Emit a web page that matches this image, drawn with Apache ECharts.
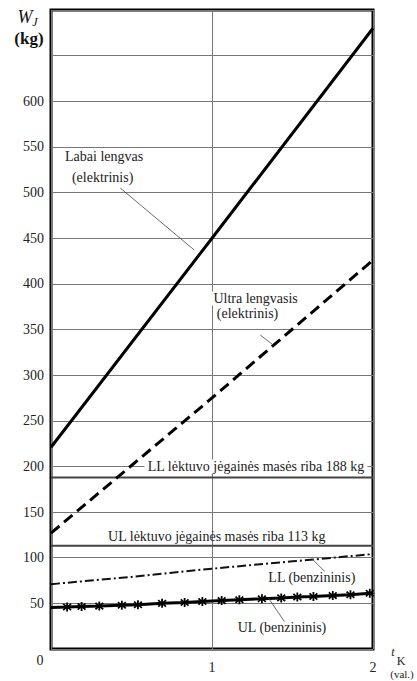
<!DOCTYPE html>
<html>
<head>
<meta charset="utf-8">
<script src="https://cdn.jsdelivr.net/npm/echarts@6/dist/echarts.min.js"></script>
<style>
  html, body { margin: 0; padding: 0; background: #fff; }
  #chart { width: 417px; height: 681px; }
</style>
</head>
<body>
<div id="chart"></div>
<script>
// x axis: flight time t_K (val.), y axis: mass W_J (kg)
var xTicks = [0, 1, 2];
var yTicks = [0, 50, 100, 150, 200, 250, 300, 350, 400, 450, 500, 550, 600, 650, 700];

// electric aircraft
var elT = [0, 1, 2];
var labaiLengvas = [221, 450, 680];
var ultraLengvasis = [127, 275, 426];

// petrol engines
var llBenzT = [0, 0.5, 1, 1.5, 2];
var llBenz = [71, 79, 88, 96, 104];
var ulBenzT = [0, 0.10, 0.19, 0.30, 0.44, 0.54, 0.69, 0.83, 0.94, 1.06, 1.17, 1.31, 1.43, 1.53, 1.63, 1.75, 1.86, 1.98, 2];
var ulBenz = [45.5, 46, 46.5, 47, 48, 48.5, 50, 51, 52, 53, 54, 55, 56, 57, 57.5, 58.5, 59.5, 61, 61];

// power plant mass limits
var llLimit = 188;
var ulLimit = 113;

var serif = 'Liberation Serif, DejaVu Serif, serif';

var chart = echarts.init(document.getElementById('chart'), null, { renderer: 'svg' });

function pairs(xs, ys) {
    return xs.map(function(x, i) { return [x, ys[i]]; });
}

var ulData = ulBenzT.map(function(t, i) {
    var item = { value: [t, ulBenz[i]] };
    // no marker at the line ends
    if (i === 0 || i === ulBenzT.length - 1) item.symbol = 'none';
    return item;
});

var starPath = 'path://M-1,-5L1,-5L1,-1.7L3.6,-4.2L5,-2.8L2.4,-0.6L5,-0.6L5,0.6L2.4,0.6L5,2.8L3.6,4.2L1,1.7L1,5L-1,5L-1,1.7L-3.6,4.2L-5,2.8L-2.4,0.6L-5,0.6L-5,-0.6L-2.4,-0.6L-5,-2.8L-3.6,-4.2L-1,-1.7Z';

chart.setOption({
    animation: false,
    textStyle: { fontFamily: serif },
    grid: {
        left: 51,
        right: 44,
        top: 10,
        bottom: 32,
        show: true,
        borderColor: '#000',
        borderWidth: 3,
        backgroundColor: 'transparent'
    },
    xAxis: {
        type: 'value',
        min: 0,
        max: 2,
        interval: 1,
        axisLine: { show: false },
        axisTick: { show: false },
        axisLabel: {
            fontFamily: serif,
            fontSize: 14,
            color: '#222',
            margin: 11,
            formatter: function(v) { return v === 0 ? '' : String(v); }
        },
        splitLine: { show: true, lineStyle: { color: '#777', width: 1 } }
    },
    yAxis: {
        type: 'value',
        min: 0,
        max: 700,
        interval: 50,
        axisLine: { show: false },
        axisTick: { show: false },
        axisLabel: {
            fontFamily: serif,
            fontSize: 14,
            color: '#222',
            margin: 7,
            formatter: function(v) { return (v === 0 || v > 600) ? '' : String(v); }
        },
        splitLine: { show: true, lineStyle: { color: '#777', width: 1 } }
    },
    series: [
        {
            name: 'LL riba',
            type: 'line',
            data: pairs([0, 2], [llLimit, llLimit]),
            symbol: 'none',
            lineStyle: { color: '#444', width: 2 },
            z: 3
        },
        {
            name: 'UL riba',
            type: 'line',
            data: pairs([0, 2], [ulLimit, ulLimit]),
            symbol: 'none',
            lineStyle: { color: '#444', width: 2 },
            z: 3
        },
        {
            name: 'Labai lengvas (elektrinis)',
            type: 'line',
            data: pairs(elT, labaiLengvas),
            symbol: 'none',
            lineStyle: { color: '#000', width: 3 },
            z: 4
        },
        {
            name: 'Ultra lengvasis (elektrinis)',
            type: 'line',
            data: pairs(elT, ultraLengvasis),
            symbol: 'none',
            lineStyle: { color: '#000', width: 3, type: [11, 6] },
            z: 4
        },
        {
            name: 'LL (benzininis)',
            type: 'line',
            data: pairs(llBenzT, llBenz),
            symbol: 'none',
            lineStyle: { color: '#111', width: 2, type: [9, 3, 2, 3] },
            z: 4
        },
        {
            name: 'UL (benzininis)',
            type: 'line',
            data: ulData,
            symbol: starPath,
            symbolSize: 9,
            showAllSymbol: true,
            itemStyle: { color: '#000' },
            lineStyle: { color: '#000', width: 3 },
            z: 4
        }
    ]
});

// annotations placed in data coordinates
function px(t, w) {
    return chart.convertToPixel({ gridIndex: 0 }, [t, w]);
}

function label(t, w, text, opts) {
    var p = px(t, w);
    var style = {
        text: text,
        fontFamily: serif,
        fontSize: 14,
        fill: '#222',
        align: (opts && opts.align) || 'left',
        verticalAlign: 'middle'
    };
    if (opts && opts.bg) {
        style.backgroundColor = '#fff';
        style.padding = [0, 3];
    }
    return { type: 'text', x: p[0], y: p[1], style: style, z: 10 };
}

function leader(t1, w1, t2, w2) {
    var a = px(t1, w1), b = px(t2, w2);
    return {
        type: 'line',
        shape: { x1: a[0], y1: a[1], x2: b[0], y2: b[1] },
        style: { stroke: '#444', lineWidth: 0.8 },
        z: 10
    };
}

function plainText(x, y, text, size, extra) {
    var style = {
        text: text,
        fontFamily: serif,
        fontSize: size,
        fill: '#222',
        align: 'center',
        verticalAlign: 'middle'
    };
    for (var k in extra) style[k] = extra[k];
    return { type: 'text', x: x, y: y, style: style, z: 10 };
}

var p0 = px(0, 0);
chart.setOption({
    graphic: [
        label(0.087, 540, 'Labai lengvas'),
        label(0.13, 516, '(elektrinis)'),
        leader(0.43, 505, 0.89, 437),
        label(0.99, 384, 'Ultra lengvasis', { bg: true }),
        label(1.03, 367, '(elektrinis)'),
        leader(1.30, 344, 1.38, 333),
        label(1.273, 200, 'LL lėktuvo jėgainės masės riba 188 kg', { align: 'center', bg: true }),
        label(1.03, 123, 'UL lėktuvo jėgainės masės riba 113 kg', { align: 'center' }),
        label(1.35, 78, 'LL (benzininis)'),
        leader(1.62, 99, 1.70, 85),
        label(1.16, 24, 'UL (benzininis)'),
        leader(1.35, 56, 1.45, 30),
        plainText(p0[0] - 11, p0[1] + 11, '0', 14),
        // y axis title
        plainText(25, 17, 'W', 18, { fontStyle: 'italic', fill: '#111' }),
        plainText(35, 22, 'J', 12, { fontStyle: 'italic', fill: '#111' }),
        plainText(29, 38, '(kg)', 17, { fontWeight: 'bold', fill: '#111' }),
        // x axis title
        plainText(393, 652, 't', 12, { fontStyle: 'italic' }),
        plainText(401, 661, 'K', 12),
        plainText(402, 674, '(val.)', 11)
    ]
});
</script>
</body>
</html>
